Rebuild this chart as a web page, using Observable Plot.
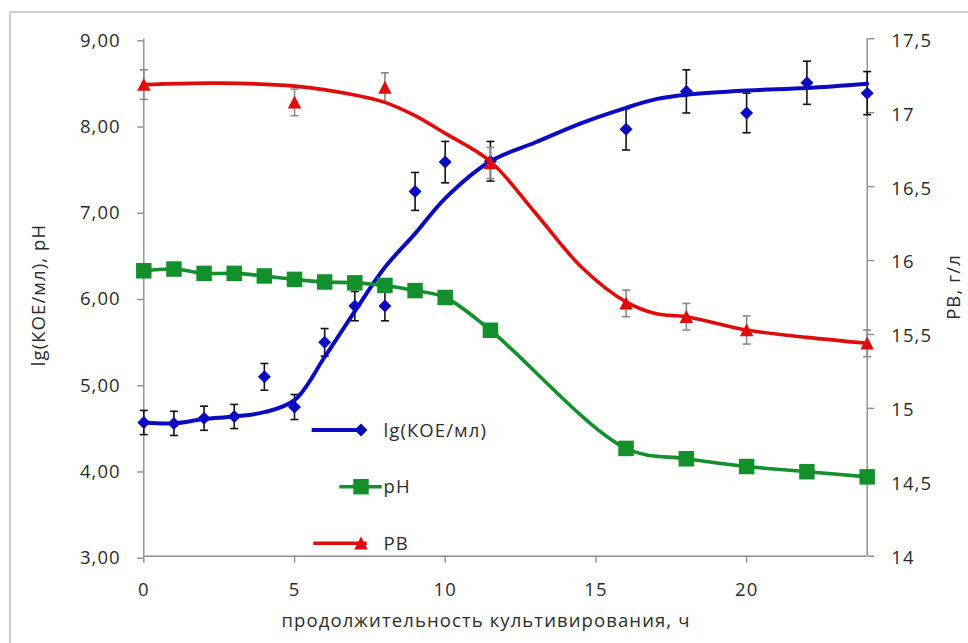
<!DOCTYPE html>
<html>
<head>
<meta charset="utf-8">
<script src="https://cdn.jsdelivr.net/npm/d3@7"></script>
<script src="https://cdn.jsdelivr.net/npm/@observablehq/plot@0.6"></script>
<style>
  html, body { margin: 0; padding: 0; background: #fff; }
  #chart { position: relative; width: 968px; height: 643px; overflow: hidden; }
  #chart svg { display: block; }
  #chart svg text { letter-spacing: 1.1px; }
</style>
</head>
<body>
<div id="chart"></div>
<script>
// Measured culture: viable count (lg CFU/ml), pH and reducing substances (PB, g/l)
const hours   = [0, 1, 2, 3, 4, 5, 6, 7, 8, 9, 10, 11.5, 16, 18, 20, 22, 24];
const lgCfu   = [4.55, 4.54, 4.60, 4.62, 5.08, 4.73, 5.48, 5.90, 5.90, 7.23, 7.57, 7.58, 7.95, 8.39, 8.14, 8.49, 8.37];
const lgErr   = [0.14, 0.14, 0.14, 0.14, 0.155, 0.145, 0.16, 0.17, 0.17, 0.22, 0.24, 0.23, 0.24, 0.25, 0.23, 0.25, 0.25];
const pH      = [6.31, 6.33, 6.28, 6.28, 6.25, 6.21, 6.18, 6.17, 6.14, 6.08, 6.00, 5.62, 4.25, 4.13, 4.04, 3.98, 3.92];

const pbHours = [0, 5, 8, 11.5, 16, 18, 20, 24];
const pbVals  = [17.19, 17.07, 17.17, 16.66, 15.71, 15.62, 15.53, 15.44];
const pbErr   = [0.10, 0.09, 0.10, 0.105, 0.09, 0.09, 0.095, 0.09];

// Smoothed growth curve and PB trend
const lgFitHours = [0, 1, 2, 3, 4, 5, 6, 7, 8, 9, 10, 11.5, 13, 14.5, 16, 17, 18, 20, 22, 24];
const lgFit      = [4.55, 4.54, 4.59, 4.62, 4.67, 4.81, 5.31, 5.84, 6.35, 6.74, 7.15, 7.58, 7.80, 8.02, 8.20, 8.30, 8.35, 8.40, 8.43, 8.48];
const pbFitHours = [0, 2.5, 5, 7, 8, 9, 10, 11.5, 13, 14.5, 16, 17, 18, 20, 22, 24];
const pbFit      = [17.19, 17.20, 17.18, 17.12, 17.07, 16.98, 16.86, 16.67, 16.32, 15.96, 15.72, 15.64, 15.62, 15.53, 15.48, 15.44];

// Axis ticks
const xTicks  = [0, 5, 10, 15, 20];
const yTicks  = [3, 4, 5, 6, 7, 8, 9];
const pbTicks = [14, 14.5, 15, 15.5, 16, 16.5, 17, 17.5];

// Secondary (PB) axis 14..17.5 is mapped onto the primary 3..9 range
const left = [3, 9], right = [14, 17.5];
const toLeft = v => left[0] + (v - right[0]) * (left[1] - left[0]) / (right[1] - right[0]);

const BLUE = "#0a0ac0", GREEN = "#13902b", RED = "#e00b0b";

const lgData = hours.map((h, i) => ({h, v: lgCfu[i], e: lgErr[i]}));
const phData = hours.map((h, i) => ({h, v: pH[i]}));
const pbData = pbHours.map((h, i) => ({h, v: toLeft(pbVals[i]), lo: toLeft(pbVals[i] - pbErr[i]), hi: toLeft(pbVals[i] + pbErr[i])}));
const lgFitData = lgFitHours.map((h, i) => ({h, v: lgFit[i]}));
const pbFitData = pbFitHours.map((h, i) => ({h, v: toLeft(pbFit[i])}));

// Marker shapes (sized from the dot radius)
const diamond = {draw(ctx, size) { const s = Math.sqrt(size) / 2; ctx.moveTo(0, -s); ctx.lineTo(s, 0); ctx.lineTo(0, s); ctx.lineTo(-s, 0); ctx.closePath(); }};
const square  = {draw(ctx, size) { const s = Math.sqrt(size) / 2; ctx.rect(-s, -s, 2 * s, 2 * s); }};
const triangle = {draw(ctx, size) { const s = Math.sqrt(size) / 2; ctx.moveTo(0, -s); ctx.lineTo(s, s * 0.92); ctx.lineTo(-s, s * 0.92); ctx.closePath(); }};
const cap = {draw(ctx, size) { const s = Math.sqrt(size) / 2; ctx.moveTo(-s, 0); ctx.lineTo(s, 0); }};
const rOf = px => px / Math.sqrt(Math.PI);

const fmtLeft = d => d.toFixed(2).replace(".", ",");
const fmtPB = d => String(d).replace(".", ",");

const AXIS = "#8c8c8c", TEXT = "#2c2c2c", FS = 18.5;

const plot = Plot.plot({
  width: 968,
  height: 643,
  marginLeft: 143.3,
  marginRight: 101.3,
  marginTop: 38.3,
  marginBottom: 87.3,
  style: {fontFamily: "'Open Sans', sans-serif", fontSize: FS + "px", background: "#fff", color: TEXT},
  x: {domain: [0, 24]},
  y: {domain: [3, 9]},
  marks: [
    // axis lines
    Plot.ruleX([0, 24], {y1: 3, y2: 9, stroke: AXIS, strokeWidth: 1.4}),
    Plot.ruleY([3], {stroke: AXIS, strokeWidth: 1.4}),
    Plot.axisX({ticks: xTicks, tickSize: 7, tickPadding: 20, tickFormat: d => String(d), label: null, fontSize: FS}),
    Plot.axisY({ticks: yTicks, tickSize: 6, tickPadding: 17, tickFormat: fmtLeft, label: null, fontSize: FS, dy: 2}),
    // secondary axis: ticks, then labels placed against the right edge of the frame
    Plot.axisY({anchor: "right", ticks: pbTicks.map(toLeft), tickSize: 6.5, text: null, label: null}),
    Plot.text(pbTicks, {y: d => toLeft(d), text: fmtPB, frameAnchor: "right", textAnchor: "start", dx: 24, dy: 2, fontSize: FS, fill: TEXT}),

    // lg CFU/ml: error bars, trend curve, points
    Plot.ruleX(lgData, {x: "h", y1: d => d.v - d.e, y2: d => d.v + d.e, stroke: "#111", strokeWidth: 1.6}),
    Plot.dot(lgData, {x: "h", y: d => d.v - d.e, symbol: cap, r: rOf(8), stroke: "#111", strokeWidth: 1.6, fill: "none"}),
    Plot.dot(lgData, {x: "h", y: d => d.v + d.e, symbol: cap, r: rOf(8), stroke: "#111", strokeWidth: 1.6, fill: "none"}),
    Plot.line(lgFitData, {x: "h", y: "v", curve: "catmull-rom", stroke: BLUE, strokeWidth: 4}),
    Plot.dot(lgData, {x: "h", y: "v", symbol: diamond, r: rOf(13), fill: BLUE, stroke: "none"}),

    // pH
    Plot.line(phData, {x: "h", y: "v", curve: "catmull-rom", stroke: GREEN, strokeWidth: 3.6}),
    Plot.dot(phData, {x: "h", y: "v", symbol: square, r: rOf(15.5), fill: GREEN, stroke: "none"}),

    // PB: error bars, trend curve, points
    Plot.ruleX(pbData, {x: "h", y1: "lo", y2: "hi", stroke: "#8a8a8a", strokeWidth: 1.6}),
    Plot.dot(pbData, {x: "h", y: "lo", symbol: cap, r: rOf(8), stroke: "#8a8a8a", strokeWidth: 1.6, fill: "none"}),
    Plot.dot(pbData, {x: "h", y: "hi", symbol: cap, r: rOf(8), stroke: "#8a8a8a", strokeWidth: 1.6, fill: "none"}),
    Plot.line(pbFitData, {x: "h", y: "v", curve: "catmull-rom", stroke: RED, strokeWidth: 3.6}),
    Plot.dot(pbData, {x: "h", y: "v", symbol: triangle, r: rOf(13.5), fill: RED, stroke: "none"})
  ]
});

const svg = d3.select(plot);
svg.selectAll('g[aria-label$="tick"] path').attr("stroke", AXIS).attr("stroke-width", 1.4);
svg.selectAll('g[aria-label$="tick label"]').attr("fill", TEXT);

// outer chart border
svg.insert("rect", ":first-child")
  .attr("x", 10).attr("y", 12).attr("width", 1000).attr("height", 700)
  .attr("fill", "none").attr("stroke", "#c4c4c4").attr("stroke-width", 1.6);

// axis titles
const titles = svg.append("g").attr("fill", TEXT).attr("font-size", FS).attr("text-anchor", "middle");
titles.append("text").attr("transform", "translate(45,295) rotate(-90)").text("lg(КОЕ/мл), pH");
titles.append("text").attr("transform", "translate(960,287) rotate(-90)").text("PB, г/л");
titles.append("text").attr("x", 486).attr("y", 627).text("продолжительность культивирования, ч");

// legend
const legend = svg.append("g").attr("text-anchor", "start");
const items = [
  {label: "lg(КОЕ/мл)", color: BLUE, sym: diamond, size: 13, x1: 311.7, x2: 365, y: 430, w: 4},
  {label: "pH", color: GREEN, sym: square, size: 15.5, x1: 339.3, x2: 381.7, y: 486.7, w: 3.6},
  {label: "PB", color: RED, sym: triangle, size: 13.5, x1: 313.3, x2: 366.7, y: 543.3, w: 3.6}
];
for (const it of items) {
  legend.append("line").attr("x1", it.x1).attr("x2", it.x2).attr("y1", it.y).attr("y2", it.y)
    .attr("stroke", it.color).attr("stroke-width", it.w);
  legend.append("path").attr("transform", `translate(361,${it.y})`)
    .attr("d", d3.symbol(it.sym, it.size * it.size)()).attr("fill", it.color);
  legend.append("text").attr("x", 383.5).attr("y", it.y + 6.5).attr("fill", TEXT).attr("font-size", FS).text(it.label);
}

document.getElementById("chart").appendChild(plot);
</script>
</body>
</html>
